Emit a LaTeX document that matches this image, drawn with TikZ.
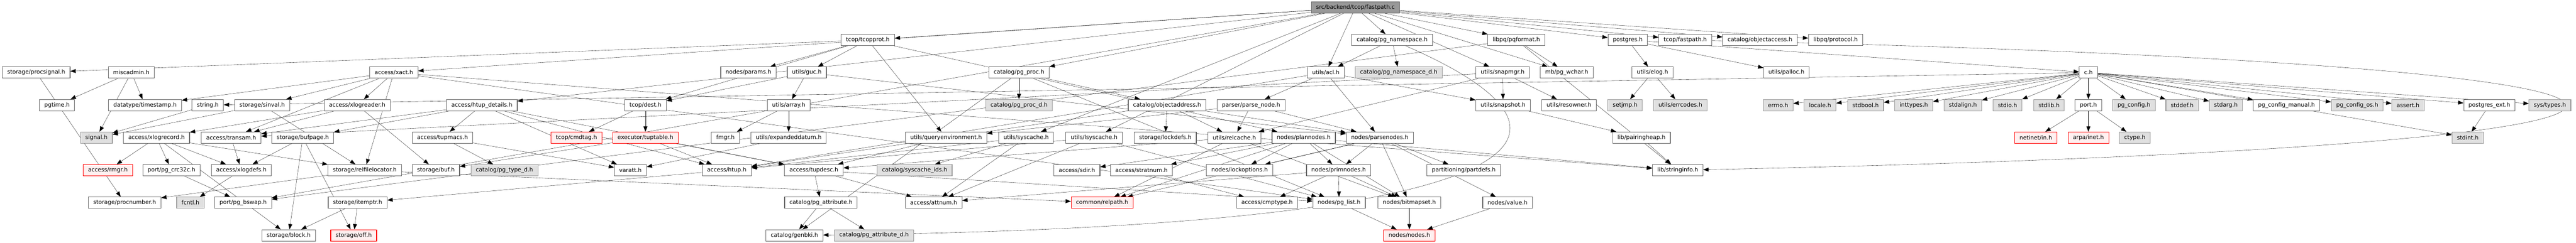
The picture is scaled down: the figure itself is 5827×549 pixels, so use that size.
\documentclass[tikz,border=0pt]{standalone}
\usepackage{fontspec}
\setmainfont{DejaVu Sans}
\usetikzlibrary{arrows.meta, backgrounds}
\definecolor{edgeblue}{HTML}{63B8FF}
\definecolor{boxgray}{HTML}{666666}
\definecolor{sysgray}{HTML}{999999}
\definecolor{sysfill}{HTML}{E0E0E0}
\definecolor{redfill}{HTML}{FFF0F0}
\definecolor{srcfill}{HTML}{999999}
\newcommand{\boxfont}{\fontsize{12.8}{15}\selectfont}

\begin{document}
\begin{tikzpicture}[x=1pt, y=-1pt,
	hdr/.style={draw=boxgray, fill=white, line width=1.3pt, minimum height=25.6pt, inner xsep=11pt, inner ysep=0pt, font=\boxfont},
	syshdr/.style={hdr, draw=sysgray, fill=sysfill},
	redhdr/.style={hdr, draw=red, fill=redfill},
	srchdr/.style={hdr, fill=srcfill},
	inc/.style={color=edgeblue, line width=1pt, -{Triangle[length=12pt, width=9pt]}}]
			\useasboundingbox (0,0) rectangle (5827,549);
			
			\node[srchdr] (src) at (3066,16.8) {src/backend/tcop/fastpath.c};
			
			\node[hdr] (tcopprot) at (1963,90.5) {tcop/tcopprot.h};
			\node[hdr] (pgnamespace) at (3149,90.5) {catalog/pg\_namespace.h};
			\node[hdr] (pqformat) at (3430,90.5) {libpq/pqformat.h};
			\node[hdr] (postgres) at (3682,90.5) {postgres.h};
			\node[hdr] (fastpathh) at (3812,90.5) {tcop/fastpath.h};
			\node[hdr] (objectaccess) at (3981,90.5) {catalog/objectaccess.h};
			\node[hdr] (protocol) at (4152,90.5) {libpq/protocol.h};
			
			\node[hdr] (procsignal) at (82,164.2) {storage/procsignal.h};
			\node[hdr] (miscadmin) at (297,164.2) {miscadmin.h};
			\node[hdr] (xact) at (891,164.2) {access/xact.h};
			\node[hdr] (params) at (1693,164.2) {nodes/params.h};
			\node[hdr] (guc) at (1825,164.2) {utils/guc.h};
			\node[hdr] (pgproc) at (2305,164.2) {catalog/pg\_proc.h};
			\node[hdr] (acl) at (2999,164.2) {utils/acl.h};
			\node[syshdr] (pgnamespaced) at (3164,164.2) {catalog/pg\_namespace\_d.h};
			\node[hdr] (snapmgr) at (3399,164.2) {utils/snapmgr.h};
			\node[hdr] (pgwchar) at (3544,164.2) {mb/pg\_wchar.h};
			\node[hdr] (elog) at (3738,164.2) {utils/elog.h};
			\node[hdr] (palloc) at (4041,164.2) {utils/palloc.h};
			\node[hdr] (ch) at (4724,164.2) {c.h};
			
			\node[hdr] (pgtime) at (129,237.9) {pgtime.h};
			\node[hdr] (timestamp) at (328,237.9) {datatype/timestamp.h};
			\node[hdr] (stringh) at (470,237.9) {string.h};
			\node[hdr] (sinval) at (593,237.9) {storage/sinval.h};
			\node[hdr] (xlogreader) at (808,237.9) {access/xlogreader.h};
			\node[hdr] (htupdetails) at (1090,237.9) {access/htup\_details.h};
			\node[hdr] (dest) at (1460,237.9) {tcop/dest.h};
			\node[hdr] (array) at (1784,237.9) {utils/array.h};
			\node[syshdr] (pgprocd) at (2305,237.9) {catalog/pg\_proc\_d.h};
			\node[hdr] (objectaddress) at (2640,237.9) {catalog/objectaddress.h};
			\node[hdr] (parsenode) at (2830,237.9) {parser/parse\_node.h};
			\node[hdr] (snapshot) at (3400,237.9) {utils/snapshot.h};
			\node[hdr] (resowner) at (3549,237.9) {utils/resowner.h};
			\node[syshdr] (setjmp) at (3676,237.9) {setjmp.h};
			\node[syshdr] (errcodes) at (3801,237.9) {utils/errcodes.h};
			\node[syshdr] (errno) at (4022,237.9) {errno.h};
			\node[syshdr] (locale) at (4117,237.9) {locale.h};
			\node[syshdr] (stdbool) at (4220,237.9) {stdbool.h};
			\node[syshdr] (inttypes) at (4329,237.9) {inttypes.h};
			\node[syshdr] (stdalign) at (4440,237.9) {stdalign.h};
			\node[syshdr] (stdio) at (4541,237.9) {stdio.h};
			\node[syshdr] (stdlib) at (4635,237.9) {stdlib.h};
			\node[hdr] (port) at (4724,237.9) {port.h};
			\node[syshdr] (pgconfig) at (4827,237.9) {pg\_config.h};
			\node[syshdr] (stddef) at (4936,237.9) {stddef.h};
			\node[syshdr] (stdarg) at (5035,237.9) {stdarg.h};
			\node[hdr] (pgconfigmanual) at (5172,237.9) {pg\_config\_manual.h};
			\node[syshdr] (pgconfigos) at (5332,237.9) {pg\_config\_os.h};
			\node[syshdr] (assert) at (5447,237.9) {assert.h};
			\node[hdr] (postgresext) at (5631,237.9) {postgres\_ext.h};
			\node[syshdr] (systypes) at (5768,237.9) {sys/types.h};
			
			\node[syshdr] (signal) at (218,311.6) {signal.h};
			\node[hdr] (xlogrecord) at (354,311.6) {access/xlogrecord.h};
			\node[hdr] (transam) at (523,311.6) {access/transam.h};
			\node[hdr] (bufpage) at (685,311.6) {storage/bufpage.h};
			\node[hdr] (tupmacs) at (1001,311.6) {access/tupmacs.h};
			\node[redhdr] (cmdtag) at (1304,311.6) {tcop/cmdtag.h};
			\node[redhdr] (tuptable) at (1460,311.6) {executor/tuptable.h};
			\node[hdr] (fmgr) at (1641,311.6) {fmgr.h};
			\node[hdr] (expandeddatum) at (1784,311.6) {utils/expandeddatum.h};
			\node[hdr] (queryenv) at (2140,311.6) {utils/queryenvironment.h};
			\node[hdr] (syscache) at (2321,311.6) {utils/syscache.h};
			\node[hdr] (lsyscache) at (2475,311.6) {utils/lsyscache.h};
			\node[hdr] (lockdefs) at (2636,311.6) {storage/lockdefs.h};
			\node[hdr] (relcache) at (2792,311.6) {utils/relcache.h};
			\node[hdr] (plannodes) at (2949,311.6) {nodes/plannodes.h};
			\node[hdr] (parsenodes) at (3121,311.6) {nodes/parsenodes.h};
			\node[hdr] (pairingheap) at (3713,311.6) {lib/pairingheap.h};
			\node[redhdr] (netinet) at (4605,311.6) {netinet/in.h};
			\node[redhdr] (arpa) at (4724,311.6) {arpa/inet.h};
			\node[syshdr] (ctype) at (4829,311.6) {ctype.h};
			\node[syshdr] (stdint) at (5582,311.6) {stdint.h};
			
			\node[redhdr] (rmgr) at (244,385.3) {access/rmgr.h};
			\node[hdr] (pgcrc) at (388,385.3) {port/pg\_crc32c.h};
			\node[hdr] (xlogdefs) at (546,385.3) {access/xlogdefs.h};
			\node[hdr] (relfilelocator) at (825,385.3) {storage/relfilelocator.h};
			\node[hdr] (buf) at (986,385.3) {storage/buf.h};
			\node[syshdr] (pgtyped) at (1141,385.3) {catalog/pg\_type\_d.h};
			\node[hdr] (varatt) at (1426,385.3) {varatt.h};
			\node[hdr] (htup) at (1644,385.3) {access/htup.h};
			\node[hdr] (tupdesc) at (1841,385.3) {access/tupdesc.h};
			\node[syshdr] (syscacheids) at (2069,385.3) {catalog/syscache\_ids.h};
			\node[hdr] (sdir) at (2436,385.3) {access/sdir.h};
			\node[hdr] (stratnum) at (2582,385.3) {access/stratnum.h};
			\node[hdr] (lockoptions) at (2804,385.3) {nodes/lockoptions.h};
			\node[hdr] (primnodes) at (3028,385.3) {nodes/primnodes.h};
			\node[hdr] (partdefs) at (3311,385.3) {partitioning/partdefs.h};
			\node[hdr] (stringinfo) at (3795,385.3) {lib/stringinfo.h};
			
			\node[hdr] (procnumber) at (282,459) {storage/procnumber.h};
			\node[syshdr] (fcntl) at (431,459) {fcntl.h};
			\node[hdr] (pgbswap) at (550,459) {port/pg\_bswap.h};
			\node[hdr] (itemptr) at (809,459) {storage/itemptr.h};
			\node[hdr] (pgattribute) at (1857,459) {catalog/pg\_attribute.h};
			\node[hdr] (attnum) at (2112,459) {access/attnum.h};
			\node[redhdr] (relpath) at (2493,459) {common/relpath.h};
			\node[hdr] (cmptype) at (2866,459) {access/cmptype.h};
			\node[hdr] (pglist) at (3029,459) {nodes/pg\_list.h};
			\node[hdr] (bitmapset) at (3188,459) {nodes/bitmapset.h};
			\node[hdr] (value) at (3410,459) {nodes/value.h};
			
			\node[hdr] (block) at (653,532.7) {storage/block.h};
			\node[redhdr] (off) at (800,532.7) {storage/off.h};
			\node[hdr] (genbki) at (1797,532.7) {catalog/genbki.h};
			\node[syshdr] (pgattributed) at (1977,532.7) {catalog/pg\_attribute\_d.h};
			\node[redhdr] (nodes) at (3188,532.7) {nodes/nodes.h};
			
			\begin{scope}[on background layer, inc]
			\draw (src) edge (tcopprot);
			\draw (src) edge (pgnamespace);
			\draw (src) edge (pqformat);
			\draw (src) edge (postgres);
			\draw (src) edge (fastpathh);
			\draw (src) edge (objectaccess);
			\draw (src) edge (protocol);
			\draw (src) edge (xact);
			\draw (src) edge (pgproc);
			\draw (src) edge (acl);
			\draw (src) edge (snapmgr);
			\draw (src) edge (pgwchar);
			\draw (src) edge (htupdetails);
			\draw (src) edge (lsyscache);
			\draw (src) edge (syscache);
			\draw (src) edge (pgbswap);
			
			\draw (tcopprot) edge (procsignal);
			\draw (tcopprot) edge (params);
			\draw (tcopprot) edge (guc);
			\draw (tcopprot) edge (queryenv);
			\draw (tcopprot) edge (plannodes);
			\draw (tcopprot) edge (dest);
			\draw (pgnamespace) edge (acl);
			\draw (pgnamespace) edge (pgnamespaced);
			\draw (pgnamespace) .. controls (3700,330) and (3400,515) .. (genbki);
			\draw (pqformat) edge (pgwchar);
			\draw (pqformat) edge (stringinfo);
			\draw (pqformat) edge (pgbswap);
			\draw (postgres) edge (ch);
			\draw (postgres) edge (elog);
			\draw (postgres) edge (palloc);
			\draw (fastpathh) .. controls (6450,150) and (6450,330) .. (stringinfo);
			
			\draw (procsignal) edge (procnumber);
			\draw (miscadmin) edge (pgtime);
			\draw (miscadmin) edge (timestamp);
			\draw (miscadmin) edge (signal);
			\draw (xact) edge (timestamp);
			\draw (xact) edge (sinval);
			\draw (xact) edge (transam);
			\draw (xact) edge (xlogreader);
			\draw (xact) edge (relfilelocator);
			\draw (xact) edge (stringinfo);
			\draw (xact) edge (pglist);
			\draw (guc) edge (array);
			\draw (guc) edge (dest);
			\draw (guc) edge (parsenodes);
			\draw (pgproc) edge (pgprocd);
			\draw (pgproc) edge (genbki);
			\draw (pgproc) edge (objectaddress);
			\draw (pgproc) edge (pglist);
			\draw (acl) edge (parsenode);
			\draw (acl) edge (snapshot);
			\draw (acl) edge (parsenodes);
			\draw (acl) edge (htup);
			\draw (snapmgr) edge (snapshot);
			\draw (snapmgr) edge (resowner);
			\draw (snapmgr) edge (transam);
			\draw (snapmgr) edge (relcache);
			\draw (elog) edge (setjmp);
			\draw (elog) edge (errcodes);
			\draw (ch) edge (stringh);
			\draw (ch) edge (errno);
			\draw (ch) edge (locale);
			\draw (ch) edge (stdbool);
			\draw (ch) edge (inttypes);
			\draw (ch) edge (stdalign);
			\draw (ch) edge (stdio);
			\draw (ch) edge (stdlib);
			\draw (ch) edge (port);
			\draw (ch) edge (pgconfig);
			\draw (ch) edge (stddef);
			\draw (ch) edge (stdarg);
			\draw (ch) edge (pgconfigmanual);
			\draw (ch) edge (pgconfigos);
			\draw (ch) edge (assert);
			\draw (ch) edge (postgresext);
			\draw (ch) edge (systypes);
			\draw (ch) edge (stdint);
			
			\draw (stringh) edge (signal);
			\draw (sinval) edge (signal);
			\draw (sinval) edge (relfilelocator);
			\draw (xlogreader) edge (transam);
			\draw (xlogreader) edge (xlogrecord);
			\draw (xlogreader) edge (buf);
			\draw (htupdetails) edge (transam);
			\draw (htupdetails) edge (bufpage);
			\draw (htupdetails) edge (tupmacs);
			\draw (htupdetails) edge (htup);
			\draw (htupdetails) edge (tupdesc);
			\draw (htupdetails) edge (varatt);
			\draw (dest) edge (cmdtag);
			\draw (dest) edge (tuptable);
			\draw (array) edge (fmgr);
			\draw (array) edge (expandeddatum);
			\draw (objectaddress) edge (htup);
			\draw (objectaddress) edge (lockdefs);
			\draw (objectaddress) edge (relcache);
			\draw (objectaddress) edge (parsenodes);
			\draw (parsenode) edge (queryenv);
			\draw (parsenode) edge (relcache);
			\draw (parsenode) edge (parsenodes);
			\draw (snapshot) edge (pairingheap);
			\draw (port) edge (netinet);
			\draw (port) edge (arpa);
			\draw (port) edge (ctype);
			\draw (postgresext) edge (stdint);
			
			\draw (xlogrecord) edge (rmgr);
			\draw (xlogrecord) edge (pgcrc);
			\draw (xlogrecord) edge (xlogdefs);
			\draw (xlogrecord) edge (block);
			\draw (xlogrecord) edge (relfilelocator);
			\draw (transam) edge (xlogdefs);
			\draw (bufpage) edge (xlogdefs);
			\draw (bufpage) edge (block);
			\draw (bufpage) edge (off);
			\draw (tupmacs) edge (pgtyped);
			\draw (tupmacs) edge (varatt);
			\draw (tuptable) edge (buf);
			\draw (tuptable) edge (htup);
			\draw (tuptable) edge (tupdesc);
			\draw (expandeddatum) edge (varatt);
			\draw (queryenv) edge (tupdesc);
			\draw (syscache) edge (htup);
			\draw (syscache) edge (syscacheids);
			\draw (syscache) edge (attnum);
			\draw (lsyscache) edge (htup);
			\draw (lsyscache) edge (attnum);
			\draw (lsyscache) edge (pglist);
			\draw (relcache) edge (tupdesc);
			\draw (relcache) edge (relpath);
			\draw (relcache) edge (bitmapset);
			\draw (plannodes) edge (sdir);
			\draw (plannodes) edge (stratnum);
			\draw (plannodes) edge (lockoptions);
			\draw (plannodes) edge (relpath);
			\draw (plannodes) edge (primnodes);
			\draw (plannodes) edge (bitmapset);
			\draw (plannodes) edge (stringinfo);
			\draw (parsenodes) edge (lockoptions);
			\draw (parsenodes) edge (relpath);
			\draw (parsenodes) edge (primnodes);
			\draw (parsenodes) edge (partdefs);
			\draw (parsenodes) edge (bitmapset);
			\draw (parsenodes) edge (value);
			\draw (pairingheap) edge (stringinfo);
			
			\draw (pgcrc) edge (pgbswap);
			\draw (xlogdefs) edge (fcntl);
			\draw (relfilelocator) edge (procnumber);
			\draw (relfilelocator) edge (relpath);
			\draw (htup) edge (itemptr);
			\draw (tupdesc) edge (pgattribute);
			\draw (tupdesc) edge (attnum);
			\draw (tupdesc) edge (pglist);
			\draw (primnodes) edge (attnum);
			\draw (primnodes) edge (cmptype);
			\draw (primnodes) edge (pglist);
			\draw (primnodes) edge (bitmapset);
			\draw (stratnum) edge (cmptype);
			
			\draw (itemptr) edge (block);
			\draw (itemptr) edge (off);
			\draw (pgattribute) edge (genbki);
			\draw (pgattribute) edge (pgattributed);
			\draw (pglist) edge (nodes);
			\draw (bitmapset) edge (nodes);
			\draw (value) edge (nodes);
			\end{scope}
			
		\end{tikzpicture}
\end{document}
